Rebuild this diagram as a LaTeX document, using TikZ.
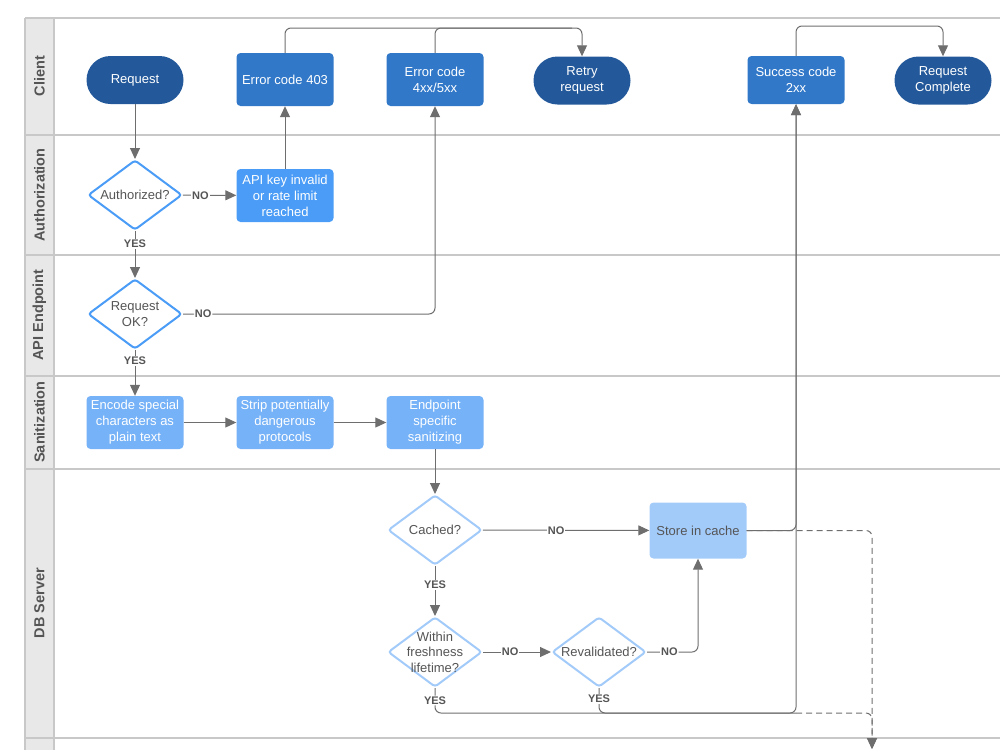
\documentclass[tikz,border=0pt]{standalone}
\usepackage{fontspec}
\setmainfont{Liberation Sans}
\usetikzlibrary{shapes.geometric,arrows.meta,calc}
\definecolor{darkb}{HTML}{23599A}
\definecolor{midb}{HTML}{3178C9}
\definecolor{brightb}{HTML}{4A9CF6}
\definecolor{lightb}{HTML}{76B2F7}
\definecolor{paleb}{HTML}{A3CBFA}
\definecolor{conn}{HTML}{6E6E6E}
\definecolor{txtgray}{HTML}{555555}
\definecolor{laneline}{HTML}{C8C8C8}
\definecolor{hdrfill}{HTML}{E8E8E8}
\begin{document}
\begin{tikzpicture}[x=1pt,y=-1pt,
  term/.style={rectangle, rounded corners=24pt, fill=darkb, text=white, minimum width=97pt, minimum height=48pt, align=center, inner sep=2pt, font=\fontsize{13}{16}\selectfont},
  codebox/.style={rectangle, rounded corners=4pt, fill=midb, text=white, minimum width=97pt, minimum height=53pt, align=center, inner sep=2pt, font=\fontsize{13}{16}\selectfont},
  authbox/.style={codebox, fill=brightb},
  sanbox/.style={codebox, fill=lightb},
  cachebox/.style={codebox, fill=paleb, text=txtgray, minimum height=56pt},
  dia/.style={diamond, draw=#1, line width=2pt, fill=white, minimum width=94pt, minimum height=70pt, inner sep=0pt, rounded corners=3pt},
  dtext/.style={font=\fontsize{13}{15.5}\selectfont, text=txtgray, align=center},
  arr/.style={draw=conn, line width=1pt, -{Triangle[width=10pt,length=11pt]}},
  plain/.style={draw=conn, line width=1pt},
  lbl/.style={fill=white, font=\bfseries\fontsize{11}{12}\selectfont, text=txtgray, inner sep=1pt},
  lane/.style={draw=laneline, line width=1.5pt},
  lanelbl/.style={rotate=90, font=\bfseries\fontsize{14.5}{16}\selectfont, text=txtgray}
]
\useasboundingbox (0,0) rectangle (1000,750);
\clip (0,0) rectangle (1000,750);

% swimlanes
\fill[hdrfill] (25,18) rectangle (54,750);
\foreach \yy in {18,135,255,376,469,738} \draw[lane] (25,\yy) -- (1000,\yy);
\draw[lane] (25,18) -- (25,750);
\draw[lane] (54,18) -- (54,750);
\node[lanelbl] (lClient) at (39.5,76) {Client};
\node[lanelbl] (lAuth) at (39.5,195) {Authorization};
\node[lanelbl] (lApi) at (39.5,315) {API Endpoint};
\node[lanelbl] (lSan) at (39.5,422) {Sanitization};
\node[lanelbl] (lDb) at (39.5,603) {DB Server};

% client lane
\node[term] (req) at (135,80) {Request};
\node[codebox] (e403) at (285,79.5) {Error code 403};
\node[codebox] (e4xx) at (435,79.5) {Error code\\4xx/5xx};
\node[term] (retry) at (582,80.5) {Retry\\request};
\node[codebox, minimum height=48pt] (succ) at (796,80) {Success code\\2xx};
\node[term] (done) at (943,80.5) {Request\\Complete};

% authorization lane
\node[dia=brightb, label={[dtext]center:Authorized?}] (auth) at (135,195) {};
\node[authbox] (apikey) at (285,195.5) {API key invalid\\or rate limit\\reached};

% API endpoint lane
\node[dia=brightb, label={[dtext]center:Request\\OK?}] (reqok) at (135,314) {};

% sanitization lane
\node[sanbox] (enc) at (135,422.5) {Encode special\\characters as\\plain text};
\node[sanbox] (strip) at (285,422.5) {Strip potentially\\dangerous\\protocols};
\node[sanbox] (endp) at (435,422.5) {Endpoint\\specific\\sanitizing};

% DB server lane
\node[dia=paleb, label={[dtext]center:Cached?}] (cached) at (435,530) {};
\node[cachebox] (store) at (698,530.5) {Store in cache};
\node[dia=paleb, label={[dtext]center:Within\\freshness\\lifetime?}] (fresh) at (435,652) {};
\node[dia=paleb, label={[dtext]center:Revalidated?}] (reval) at (599,652) {};

\coordinate (top1) at (582,28);
\coordinate (top2) at (943,26);
\coordinate (j1) at (796,713);
\coordinate (bot) at (872,749);

% connectors
\draw[arr] (req) -- (auth);
\draw[arr] (auth) -- node[lbl, pos=0.33]{NO} (apikey);
\draw[arr] (apikey) -- (e403);
\draw[arr, rounded corners=6pt] (e403.north) |- (top1) -- (retry.north);
\draw[plain, rounded corners=6pt] (e4xx.north) |- ($(top1)+(-10,0)$);
\draw[arr, rounded corners=6pt] (succ.north) |- (top2) -- (done.north);
\draw[arr] (auth) -- node[lbl, pos=0.27]{YES} (reqok);
\draw[arr, rounded corners=6pt] (reqok.east) -| node[lbl, pos=0.04]{NO} (e4xx.south);
\draw[arr] (reqok) -- node[lbl, pos=0.24]{YES} (enc);
\draw[arr] (enc) -- (strip);
\draw[arr] (strip) -- (endp);
\draw[arr] (endp) -- (cached);
\draw[arr] (cached) -- node[lbl, pos=0.44]{NO} (store);
\draw[arr] (cached) -- node[lbl, pos=0.38]{YES} (fresh);
\draw[arr] (fresh) -- node[lbl, pos=0.4]{NO} (reval);
\draw[arr, rounded corners=6pt] (reval.east) -| node[lbl, pos=0.22]{NO} (store.south);
\draw[arr, rounded corners=6pt] (store.east) -| (succ.south);
\draw[arr, rounded corners=6pt] (fresh.south) |- node[lbl, pos=0.25]{YES} (j1) -- (succ.south);
\draw[plain, rounded corners=6pt] (reval.south) |- node[lbl, pos=0.22]{YES} (j1);
\draw[arr, dashed, dash pattern=on 6pt off 4pt, rounded corners=6pt] (store.east) -| (bot);
\draw[arr, dashed, dash pattern=on 6pt off 4pt, rounded corners=6pt] (j1) -| (bot);
\end{tikzpicture}
\end{document}
